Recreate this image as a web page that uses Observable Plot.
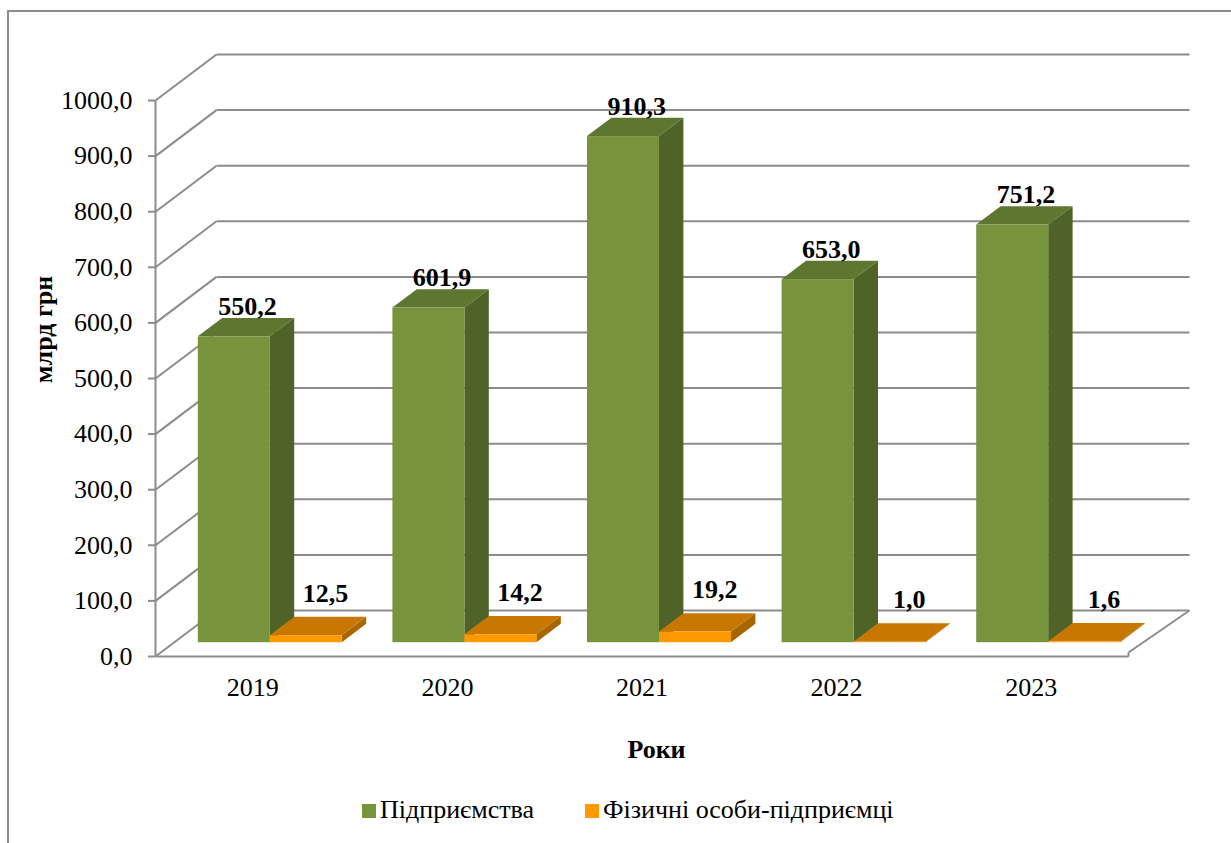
<!DOCTYPE html>
<html>
<head>
<meta charset="utf-8">
<script src="https://cdn.jsdelivr.net/npm/d3@7"></script>
<script src="https://cdn.jsdelivr.net/npm/@observablehq/plot@0.6"></script>
<style>
  body { margin: 0; background: #fff; font-family: 'Liberation Serif', serif; }
  #wrap { position: relative; width: 1231px; height: 843px; overflow: hidden; background: #fff; }
  #frame { position: absolute; left: 7px; top: 10px; width: 1300px; height: 900px;
           border-left: 2px solid #8c8c8c; border-top: 2px solid #8c8c8c; }
  #chart { position: absolute; left: 0; top: 0; }
  .leg { position: absolute; top: 795px; height: 30px; line-height: 30px; font-size: 26px; color: #000; white-space: nowrap;
         font-family: 'Liberation Serif', serif; }
  .sw { display: inline-block; width: 14px; height: 14px; margin-right: 4px; vertical-align: baseline; }
</style>
</head>
<body>
<div id="wrap">
  <div id="frame"></div>
  <div id="chart"></div>
  <div class="leg" style="left:362px"><span class="sw" style="background:#77933C"></span>Підприємства</div>
  <div class="leg" style="left:585px"><span class="sw" style="background:#FF9900"></span>Фізичні особи-підприємці</div>
</div>
<script>
// ---- data ----
const years = ["2019", "2020", "2021", "2022", "2023"];
const enterprises = [550.2, 601.9, 910.3, 653.0, 751.2];
const individuals = [12.5, 14.2, 19.2, 1.0, 1.6];
const yTicks = [0, 100, 200, 300, 400, 500, 600, 700, 800, 900, 1000];
const seriesNames = ["Підприємства", "Фізичні особи-підприємці"];

// ---- styles / geometry ----
const serif = "Liberation Serif";
const faceColors = [
  { front: "#77933C", top: "#5E7730", side: "#4F6228" },
  { front: "#FF9900", top: "#C87800", side: "#A86500" }
];
const gridColor = "#8c8c8c";
const W = 1231, H = 790, mL = 155, mR = 103, mT = 100, baseY = 656;
const pxU = (W - mL - mR) / years.length;   // px per category unit
const pxV = (baseY - mT) / 1000;             // px per value unit
const wallDX = 61 / pxU, wallDY = 46 / pxV;  // 3D depth of the walls
const barW = 72 / pxU, barOff = 24.5 / pxU;
const f0 = 0.3, f1 = 0.7;
const ddx = (f1 - f0) * wallDX, ddy = (f1 - f0) * wallDY;

function faces(values, s) {
  const side = [], top = [], front = [], labels = [];
  values.forEach((v, i) => {
    const key = s + "-" + i;
    const xl = i + barOff + s * barW + f0 * wallDX, xr = xl + barW;
    const yb = f0 * wallDY, yt = yb + v;
    side.push({ k: key, x: xr, y1: yb, y2: yt }, { k: key, x: xr + ddx, y1: yb + ddy, y2: yt + ddy });
    top.push({ k: key, y: yt, x1: xl, x2: xr }, { k: key, y: yt + ddy, x1: xl + ddx, x2: xr + ddx });
    front.push({ x1: xl, x2: xr, y1: yb, y2: yt });
    labels.push({ x: (xl + xr) / 2 + ddx / 2, y: yt + ddy, text: v.toFixed(1).replace(".", ",") });
  });
  return { side, top, front, labels };
}
const g = faces(enterprises, 0);
const o = faces(individuals, 1);

// shadow footprint under each pair of bars
const shadow = [];
years.forEach((y, i) => {
  const xl = i + barOff + f0 * wallDX, xr = xl + 2 * barW;
  const sx = 6 / pxU, sy = 6 / pxV, yb = f0 * wallDY;
  shadow.push({ k: i, y: yb - sy, x1: xl - sx, x2: xr - sx }, { k: i, y: yb + ddy - sy, x1: xl + ddx - sx, x2: xr + ddx - sx });
});

const fmt = d => d.toFixed(1).replace(".", ",");
const slab = 4 / pxV;

const plot = Plot.plot({
  width: W, height: H,
  marginLeft: mL, marginRight: mR, marginTop: mT, marginBottom: H - baseY,
  x: { domain: [0, years.length] },
  y: { domain: [0, 1000] },
  style: { fontFamily: serif, fontSize: "26px", color: "#000", background: "transparent", overflow: "visible" },
  marks: [
    // left wall diagonals
    Plot.link(yTicks, { x1: 0, y1: d => d, x2: wallDX, y2: d => d + wallDY, stroke: gridColor, strokeWidth: 2 }),
    // back wall gridlines
    Plot.link(yTicks, { x1: wallDX, x2: years.length + wallDX, y1: d => d + wallDY, y2: d => d + wallDY, stroke: gridColor, strokeWidth: 2 }),
    // floor edges
    Plot.link([0], { x1: years.length, y1: slab, x2: years.length + wallDX, y2: wallDY, stroke: gridColor, strokeWidth: 2 }),
    Plot.link([0], { x1: years.length, y1: 0, x2: years.length, y2: slab, stroke: gridColor, strokeWidth: 2 }),
    Plot.link([0], { x1: 0, y1: 0, x2: years.length, y2: 0, stroke: gridColor, strokeWidth: 2 }),
    // y axis line
    Plot.link([0], { x1: 0, y1: 0, x2: 0, y2: 1000, stroke: gridColor, strokeWidth: 2 }),
    // shadow
    Plot.areaX(shadow, { y: "y", x1: "x1", x2: "x2", z: "k", fill: "#b8b8b8", fillOpacity: 0.8, ariaLabel: "shadow" }),
    // enterprises bars
    Plot.areaY(g.side, { x: "x", y1: "y1", y2: "y2", z: "k", fill: faceColors[0].side }),
    Plot.areaX(g.top, { y: "y", x1: "x1", x2: "x2", z: "k", fill: faceColors[0].top }),
    Plot.rect(g.front, { x1: "x1", x2: "x2", y1: "y1", y2: "y2", fill: faceColors[0].front }),
    // individuals bars
    Plot.areaY(o.side, { x: "x", y1: "y1", y2: "y2", z: "k", fill: faceColors[1].side }),
    Plot.areaX(o.top, { y: "y", x1: "x1", x2: "x2", z: "k", fill: faceColors[1].top }),
    Plot.rect(o.front, { x1: "x1", x2: "x2", y1: "y1", y2: "y2", fill: faceColors[1].front }),
    // data labels
    Plot.text(g.labels, { x: "x", y: "y", text: "text", fontWeight: "bold", fontFamily: serif, fill: "#000", dx: 1, dy: -12 }),
    Plot.text(o.labels, { x: "x", y: "y", text: "text", fontWeight: "bold", fontFamily: serif, fill: "#000", dx: 7, dy: -24 }),
    // axes
    Plot.axisY(yTicks, { tickSize: 7, tickPadding: 16, tickFormat: fmt, stroke: gridColor, strokeWidth: 2, fill: "#000", fontFamily: serif, label: null }),
    Plot.axisX(years.map((_, i) => i + 0.5), { tickSize: 0, tickPadding: 21, tickFormat: d => years[Math.floor(d)], fill: "#000", fontFamily: serif, label: null }),
    // axis titles
    Plot.text(["млрд грн"], { frameAnchor: "left", textAnchor: "middle", rotate: -90, dx: 43 - mL, dy: 329 - (mT + baseY) / 2, fontWeight: "bold", fontFamily: serif, fill: "#000" }),
    Plot.text(["Роки"], { frameAnchor: "bottom-left", textAnchor: "middle", dx: 656 - mL, dy: 101, fontWeight: "bold", fontFamily: serif, fill: "#000" })
  ]
});

// soft blur for shadow
const ns = "http://www.w3.org/2000/svg";
const defs = document.createElementNS(ns, "defs");
const filt = document.createElementNS(ns, "filter");
filt.setAttribute("id", "shblur");
filt.setAttribute("x", "-20%"); filt.setAttribute("y", "-50%");
filt.setAttribute("width", "140%"); filt.setAttribute("height", "200%");
const blur = document.createElementNS(ns, "feGaussianBlur");
blur.setAttribute("stdDeviation", "3");
filt.appendChild(blur); defs.appendChild(filt);
plot.insertBefore(defs, plot.firstChild);
const sh = plot.querySelector('g[aria-label="shadow"]');
if (sh) sh.setAttribute("filter", "url(#shblur)");

document.getElementById("chart").appendChild(plot);
</script>
</body>
</html>
